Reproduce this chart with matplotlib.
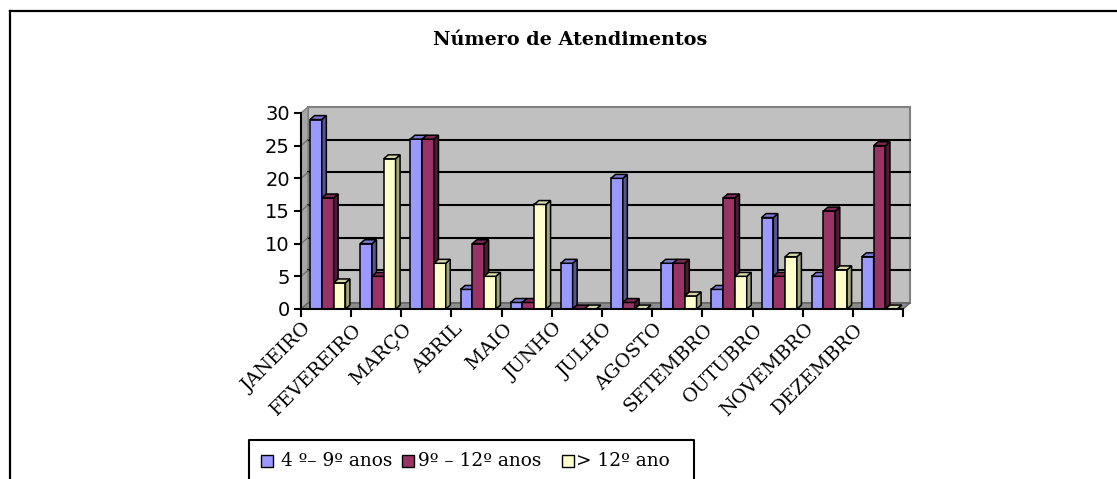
import numpy as np
import matplotlib.pyplot as plt
from matplotlib.patches import Polygon, Rectangle
from matplotlib.lines import Line2D

meses = ["JANEIRO", "FEVEREIRO", "MARÇO", "ABRIL", "MAIO", "JUNHO",
         "JULHO", "AGOSTO", "SETEMBRO", "OUTUBRO", "NOVEMBRO", "DEZEMBRO"]
anos_4_9 = [29, 10, 26, 3, 1, 7, 20, 7, 3, 14, 5, 8]
anos_9_12 = [17, 5, 26, 10, 1, 0, 1, 7, 17, 5, 15, 25]
anos_12 = [4, 23, 7, 5, 16, 0, 0, 2, 5, 8, 6, 0]
nomes = ["4 º– 9º anos", "9º – 12º anos", "> 12º ano"]
titulo = "Número de Atendimentos"
y_ticks = [0, 5, 10, 15, 20, 25, 30]

# front, top, side colours per series
cores = [("#9999FF", "#7C7CD6", "#55558F"),
         ("#993366", "#7A2952", "#4D1A33"),
         ("#FFFFCC", "#D6D6AA", "#A3A37E")]

W, H = 1117, 479
fig = plt.figure(figsize=(W / 100, H / 100), dpi=100)

# outer frame (left and top only visible)
fig.add_artist(Line2D([10 / W, 10 / W], [0, 1 - 11 / H], color="black", lw=1.6,
                      transform=fig.transFigure))
fig.add_artist(Line2D([10 / W, 1], [1 - 11 / H, 1 - 11 / H], color="black", lw=1.6,
                      transform=fig.transFigure))

fig.text(570 / W, 1 - 40 / H, titulo, ha="center", va="center",
         fontfamily="DejaVu Serif", fontweight="bold", fontsize=13.8)

ax = fig.add_axes([301 / W, 1 - 309 / H, 602 / W, (309 - 113) / H])
ax.set_xlim(0, 12)
ax.set_ylim(0, 30)
ax.patch.set_visible(False)

n = len(meses)
dxw, dyw = 0.14, 0.92   # wall depth
sx, sy = 0.09, 0.6      # bar depth
bw, x_ini = 0.235, 0.18

# walls and floor
ax.add_patch(Polygon([(dxw, dyw), (n + dxw, dyw), (n + dxw, 30 + dyw), (dxw, 30 + dyw)],
                     closed=True, facecolor="#C0C0C0", edgecolor="#808080", lw=1.5,
                     zorder=0.5, clip_on=False))
ax.add_patch(Polygon([(0, 0), (dxw, dyw), (dxw, 30 + dyw), (0, 30)], closed=True,
                     facecolor="#A6A6A6", edgecolor="#808080", lw=1.0, zorder=0.6,
                     clip_on=False))
ax.add_patch(Polygon([(0, 0), (n, 0), (n + dxw, dyw), (dxw, dyw)], closed=True,
                     facecolor="#8C8C8C", edgecolor="#606060", lw=1.0, zorder=0.7,
                     clip_on=False))
for y in y_ticks[1:-1]:
    ax.plot([dxw, n + dxw], [y + dyw, y + dyw], color="black", lw=1.5, zorder=1,
            clip_on=False)
    ax.plot([0, dxw], [y, y + dyw], color="#707070", lw=1.0, zorder=1, clip_on=False)

series = [anos_4_9, anos_9_12, anos_12]
for i in range(n):
    for j, vals in enumerate(series):
        v = vals[i]
        x0 = i + x_ini + j * bw
        z = 3 + i * 0.01 + j * 0.001
        frente, topo, lado = cores[j]
        ax.bar(x0, v, width=bw, align="edge", color=frente, edgecolor="black",
               lw=1.1, zorder=z, clip_on=False)
        ax.add_patch(Polygon([(x0 + bw, 0), (x0 + bw + sx, sy), (x0 + bw + sx, v + sy),
                              (x0 + bw, v)], closed=True, facecolor=lado,
                             edgecolor="black", lw=1.1, zorder=z, clip_on=False))
        ax.add_patch(Polygon([(x0, v), (x0 + bw, v), (x0 + bw + sx, v + sy),
                              (x0 + sx, v + sy)], closed=True, facecolor=topo,
                             edgecolor="black", lw=1.1, zorder=z, clip_on=False))

for s in ["top", "right"]:
    ax.spines[s].set_visible(False)
for s in ["left", "bottom"]:
    ax.spines[s].set_linewidth(1.5)
    ax.spines[s].set_zorder(5)

ax.set_yticks(y_ticks)
ax.set_yticklabels([str(t) for t in y_ticks], fontfamily="DejaVu Sans", fontsize=14)
ax.tick_params(axis="y", direction="out", length=5, width=1.5, pad=3)

ax.set_xticks(np.arange(n) + 0.03)
ax.set_xticklabels(meses, rotation=45, ha="right", va="top", rotation_mode="anchor",
                   fontfamily="DejaVu Serif", fontsize=13.8)
ax.tick_params(axis="x", which="major", length=0, pad=8)
ax.set_xticks(np.arange(n + 1), minor=True)
ax.tick_params(axis="x", which="minor", direction="out", length=6, width=1.5)

# legend box
fig.add_artist(Line2D([249 / W, 249 / W, 694 / W, 694 / W],
                      [0, 1 - 440 / H, 1 - 440 / H, 0], color="black", lw=1.5,
                      transform=fig.transFigure))
leg_sq = [261, 402, 562]
leg_tx = [281, 418, 576]
for j, nome in enumerate(nomes):
    fig.add_artist(Rectangle((leg_sq[j] / W, 1 - 467 / H), 12 / W, 12 / H,
                             facecolor=cores[j][0], edgecolor="black", lw=1.0,
                             transform=fig.transFigure))
    fig.text(leg_tx[j] / W, 1 - 461 / H, nome, ha="left", va="center",
             fontfamily="DejaVu Serif", fontsize=13.3)

fig.savefig("out.png", dpi=100)
